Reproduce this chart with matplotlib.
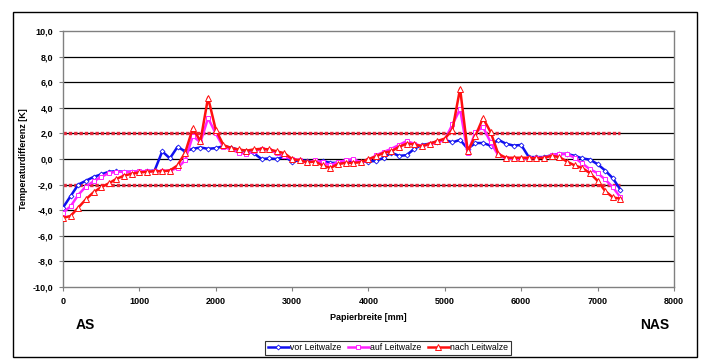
import numpy as np
import matplotlib.pyplot as plt
from matplotlib.patches import Rectangle

plt.rcParams['font.family'] = ['Liberation Sans', 'DejaVu Sans']

#---------Data------------------------------------
breite = list(range(0, 7400, 100))  # Papierbreite [mm]

vor = [-3.8, -2.9, -2.0, -1.7, -1.4, -1.2, -1.0, -0.95, -1.0, -1.0,
       -1.0, -0.95, -0.9, 0.6, 0.05, 0.95, 0.6, 0.8, 0.9, 0.8,
       0.85, 1.0, 0.9, 0.72, 0.65, 0.45, 0.0, 0.05, 0.0, 0.2,
       -0.2, -0.1, -0.15, -0.2, -0.15, -0.3, -0.3, -0.2, -0.15, -0.2,
       -0.2, -0.15, 0.1, 0.5, 0.25, 0.3, 0.8, 1.1, 1.2, 1.35,
       1.5, 1.3, 1.5, 0.8, 1.25, 1.25, 1.05, 1.5, 1.2, 1.05,
       1.1, 0.15, 0.15, 0.15, 0.3, 0.4, 0.4, 0.25, 0.05, -0.05,
       -0.4, -0.9, -1.5, -2.4]

auf = [-4.2, -3.7, -2.8, -2.15, -1.75, -1.4, -1.1, -1.0, -1.0, -1.0,
       -0.95, -0.95, -0.95, -0.95, -0.9, -0.7, -0.1, 1.8, 1.3, 3.2,
       2.0, 0.95, 0.75, 0.5, 0.4, 0.6, 0.8, 0.72, 0.45, 0.2,
       0.0, -0.1, -0.3, -0.1, -0.25, -0.5, -0.25, -0.1, 0.0, -0.25,
       -0.1, 0.3, 0.55, 0.8, 1.1, 1.4, 1.2, 1.0, 1.15, 1.3,
       1.5, 2.7, 3.9, 0.45, 2.1, 2.5, 1.3, 0.3, 0.05, 0.0,
       0.0, 0.05, 0.1, 0.1, 0.3, 0.4, 0.4, 0.1, -0.35, -0.8,
       -1.1, -1.6, -2.2, -3.0]

nach = [-4.6, -4.45, -3.8, -3.15, -2.6, -2.2, -1.9, -1.55, -1.3, -1.15,
        -1.05, -1.0, -0.95, -0.95, -0.9, -0.5, 0.5, 2.4, 1.4, 4.8,
        2.3, 1.1, 0.85, 0.75, 0.65, 0.75, 0.8, 0.75, 0.6, 0.45,
        0.0, -0.1, -0.25, -0.2, -0.5, -0.7, -0.4, -0.3, -0.3, -0.25,
        0.0, 0.2, 0.5, 0.6, 0.95, 1.2, 1.15, 1.0, 1.2, 1.4,
        1.6, 2.3, 5.5, 0.6, 1.8, 3.2, 2.1, 0.4, 0.1, 0.1,
        0.1, 0.1, 0.05, 0.1, 0.25, 0.15, -0.2, -0.5, -0.7, -1.1,
        -1.7, -2.5, -3.0, -3.1]

grenze = 2.0  # +/- Toleranzlinie
grenze_bis = 7300

yticks = np.arange(-10, 11, 2)
xticks = np.arange(0, 8001, 1000)

#---------Figure-----------
fig = plt.figure(figsize=(7.02, 3.61), dpi=100)
ax = fig.add_axes([0.0897, 0.205, 0.8703, 0.709])

# outer chart border
fig.patches.append(Rectangle((0.0185, 0.011), 0.974, 0.956, transform=fig.transFigure,
                             fill=False, edgecolor='black', linewidth=1.0))

# gridlines
for yv in yticks[1:-1]:
    ax.axhline(yv, color='black', linewidth=0.9, zorder=1)

# tolerance lines
for g in (grenze, -grenze):
    ax.plot([0, grenze_bis], [g, g], color='#e8283c', linewidth=2.4,
            linestyle=(0, (1, 0.6)), zorder=2)

ax.plot(breite, vor, color='#1010f0', linewidth=1.8, marker='D', markersize=2.5,
        markerfacecolor='white', markeredgewidth=0.6, label='vor Leitwalze', zorder=3)
ax.plot(breite, auf, color='#ff22ff', linewidth=1.8, marker='s', markersize=3.5,
        markerfacecolor='white', markeredgewidth=0.7, label='auf Leitwalze', zorder=4)
ax.plot(breite, nach, color='#ff1010', linewidth=1.8, marker='^', markersize=4,
        markerfacecolor='white', markeredgewidth=0.7, label='nach Leitwalze', zorder=5)

ax.set_xlim(0, 8000)
ax.set_ylim(-10, 10)
ax.set_xticks(xticks)
ax.set_yticks(yticks)
ax.set_xticklabels([str(v) for v in xticks], fontsize=6.5, fontweight='bold')
ax.set_yticklabels([('%.1f' % v).replace('.', ',') for v in yticks], fontsize=6.5, fontweight='bold')
ax.tick_params(direction='out', length=3, width=0.8, color='#808080', pad=4)

for s in ax.spines.values():
    s.set_color('#808080')
    s.set_linewidth(1.0)

ax.set_xlabel('Papierbreite [mm]', fontsize=6.5, fontweight='bold', labelpad=5)
ax.set_ylabel('Temperaturdifferenz [K]', fontsize=6.5, fontweight='bold', labelpad=3)

fig.text(85 / 702, 1 - 325 / 361, 'AS', fontsize=10, fontweight='bold', ha='center', va='center')
fig.text(655 / 702, 1 - 325 / 361, 'NAS', fontsize=10, fontweight='bold', ha='center', va='center')

leg = fig.legend(loc='center', bbox_to_anchor=(388 / 702, 1 - 348 / 361), ncol=3,
                 fontsize=6.3, frameon=True, fancybox=False, edgecolor='black',
                 handlelength=2.4, handletextpad=0.2, columnspacing=0.7,
                 borderpad=0.3, borderaxespad=0)
leg.get_frame().set_linewidth(0.8)

plt.savefig('out.png', dpi=100)
